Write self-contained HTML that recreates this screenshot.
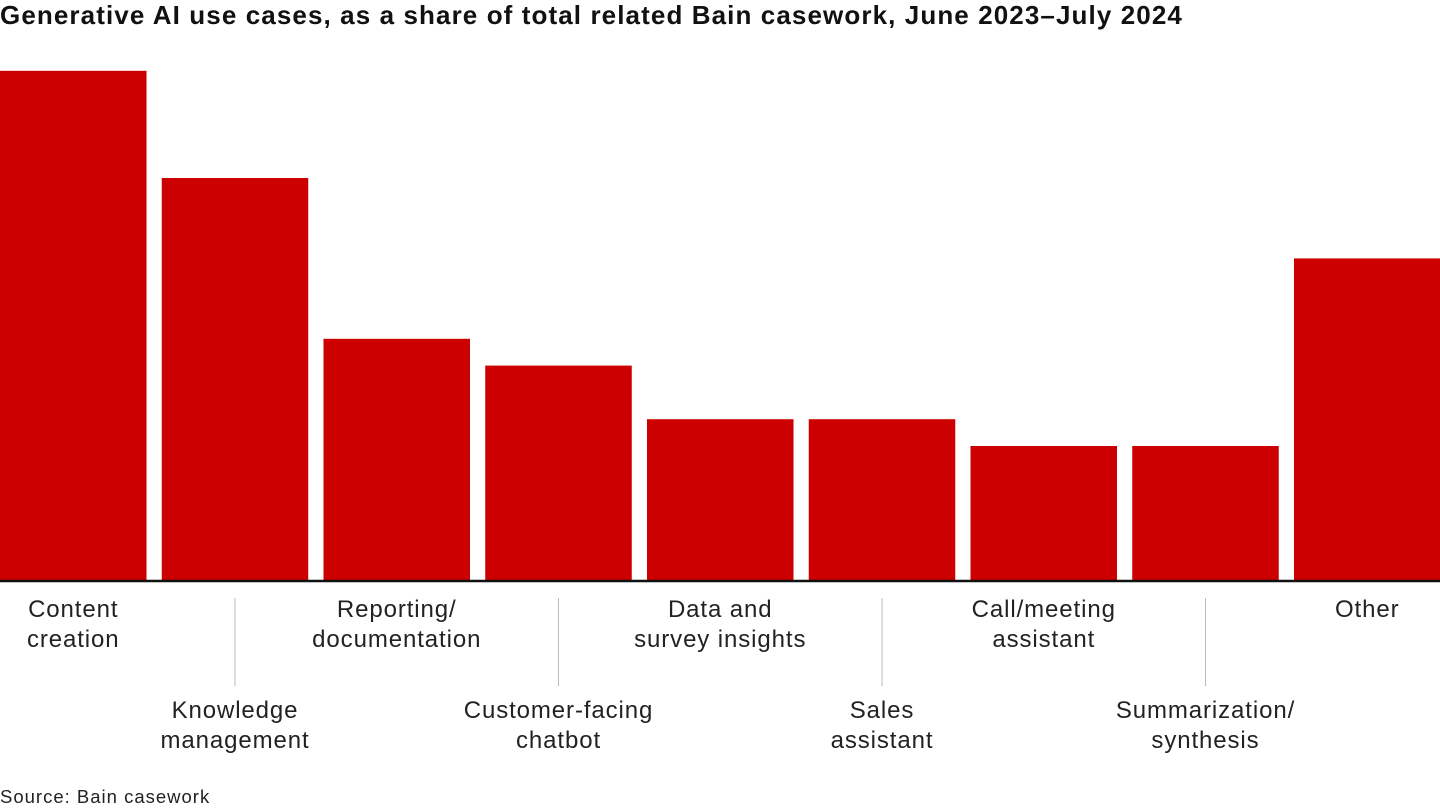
<!DOCTYPE html>
<html><head><meta charset="utf-8"><style>
body{margin:0;width:1440px;height:810px;background:#fff;font-family:"Liberation Sans",sans-serif;overflow:hidden;position:relative}
#title{position:absolute;left:0;top:0px;font-size:26px;letter-spacing:1.1px;font-weight:bold;color:#111;white-space:nowrap}
#src{position:absolute;left:0;top:786px;font-size:18.5px;letter-spacing:1px;color:#222}
svg{position:absolute;left:0;top:0}
</style></head><body>
<div id="title">Generative AI use cases, as a share of total related Bain casework, June 2023–July 2024</div>
<svg id="chart" width="1440" height="810"></svg>
<div id="src">Source: Bain casework</div>
<script>
const categories=["Content|creation","Knowledge|management","Reporting/|documentation","Customer-facing|chatbot","Data and|survey insights","Sales|assistant","Call/meeting|assistant","Summarization/|synthesis","Other"];
const values=[19,15,9,8,6,6,5,5,12];
const NS="http://www.w3.org/2000/svg";
const svg=document.getElementById('chart');
const base=580,scale=26.8,step=161.75,bw=146.5;
const xs=i=>i*step;
const ys=v=>base-v*scale;
function mk(t,a){const e=document.createElementNS(NS,t);for(const k in a)e.setAttribute(k,a[k]);svg.appendChild(e);return e;}
values.forEach((v,i)=>{
 const r=mk('rect',{x:xs(i),y:ys(v),width:bw,height:base-ys(v),fill:'#cc0000'});
 
 
 const cx=xs(i)+bw/2,low=i%2===1;
 const y0=low?718:617;
 categories[i].split('|').forEach((ln,j)=>{
  const t=mk('text',{x:cx,y:y0+j*30,'text-anchor':'middle','font-size':'24','letter-spacing':'0.9','fill':'#222','font-family':'Liberation Sans, sans-serif'});
  t.textContent=ln;
  
  
 });
 if(low){const l=mk('line',{x1:cx,x2:cx,y1:598,y2:686,stroke:'#bbb','stroke-width':1});
  
  }
});
const ax=mk('line',{x1:0,x2:1440,y1:581,y2:581,stroke:'#111','stroke-width':2.5});


</script>
</body></html>
